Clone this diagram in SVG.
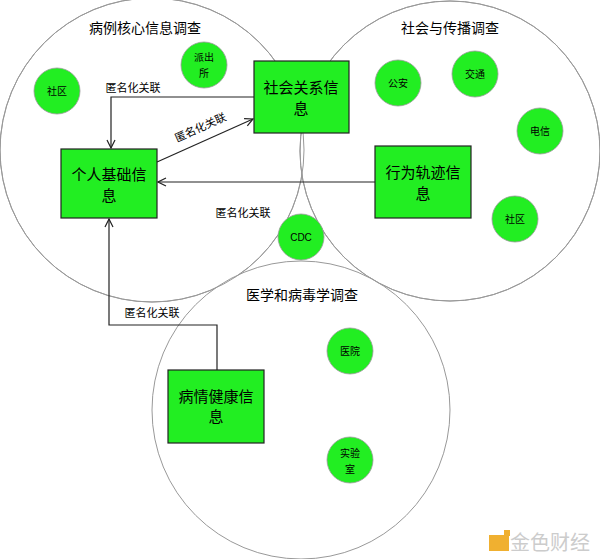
<svg xmlns="http://www.w3.org/2000/svg" width="600" height="559" viewBox="0 0 600 559">
<defs>
<style>
.big{fill:#fff;stroke:#999;stroke-width:1}
.ring{fill:none;stroke:#999;stroke-width:1}
.box{fill:#22ee22;stroke:#222;stroke-width:1.2}
.dot{fill:#22ee22;stroke:#999;stroke-width:0.8}
text{font-family:"Noto Sans CJK SC","Liberation Sans",sans-serif;fill:#000;text-anchor:middle}
.t{font-size:14px}
.bt{font-size:15px}
.s{font-size:10px}
.l{font-size:11px}
.e{fill:none;stroke:#222;stroke-width:1.2}
</style>
<marker id="a" markerWidth="10" markerHeight="10" refX="9" refY="5" orient="auto" markerUnits="userSpaceOnUse"><path d="M1,1 L9,5 L1,9" fill="none" stroke="#222" stroke-width="1.2"/></marker>
</defs>
<rect width="600" height="559" fill="#fff"/>
<g id="circles">
<circle class="big" cx="152" cy="150" r="152"/>
<circle class="big" cx="450" cy="151" r="150"/>
<circle class="big" cx="301" cy="410" r="149"/>
<circle class="ring" cx="152" cy="150" r="152"/>
<circle class="ring" cx="450" cy="151" r="150"/>
</g>
<g id="titles">
<text class="t" x="145" y="33">病例核心信息调查</text>
<text class="t" x="450" y="33">社会与传播调查</text>
<text class="t" x="302" y="300">医学和病毒学调查</text>
</g>
<g id="connectors">
<polyline class="e" points="254,97 111,97 111,148" marker-end="url(#a)"/>
<line class="e" x1="157" y1="162" x2="253" y2="119" marker-end="url(#a)"/>
<line class="e" x1="375" y1="182" x2="158" y2="182" marker-end="url(#a)"/>
<polyline class="e" points="217,370 217,325 109,325 109,219" marker-end="url(#a)"/>
<text class="l" x="133" y="92">匿名化关联</text>
<text class="l" x="0" y="0" transform="translate(202,131) rotate(-24)">匿名化关联</text>
<text class="l" x="243" y="217">匿名化关联</text>
<text class="l" x="152" y="317">匿名化关联</text>
</g>
<g id="n-social"><rect class="box" x="254" y="61" width="95" height="72"/><text class="bt" x="301" y="93">社会关系信</text><text class="bt" x="301" y="114">息</text></g>
<g id="n-personal"><rect class="box" x="61" y="149" width="96" height="69"/><text class="bt" x="109" y="180">个人基础信</text><text class="bt" x="109" y="201">息</text></g>
<g id="n-track"><rect class="box" x="375" y="146" width="96" height="72"/><text class="bt" x="423" y="178">行为轨迹信</text><text class="bt" x="423" y="199">息</text></g>
<g id="n-health"><rect class="box" x="168" y="370" width="96" height="73"/><text class="bt" x="216" y="402">病情健康信</text><text class="bt" x="216" y="422">息</text></g>
<g id="d-sq1"><circle class="dot" cx="57" cy="91" r="23"/><text class="s" x="57" y="95">社区</text></g>
<g id="d-pcs"><circle class="dot" cx="204" cy="65" r="23"/><text class="s" x="204" y="61">派出</text><text class="s" x="204" y="77">所</text></g>
<g id="d-ga"><circle class="dot" cx="398" cy="83" r="23"/><text class="s" x="398" y="87">公安</text></g>
<g id="d-jt"><circle class="dot" cx="475" cy="74" r="23"/><text class="s" x="475" y="78">交通</text></g>
<g id="d-dx"><circle class="dot" cx="540" cy="131" r="23"/><text class="s" x="540" y="135">电信</text></g>
<g id="d-sq2"><circle class="dot" cx="515" cy="219" r="23"/><text class="s" x="515" y="223">社区</text></g>
<g id="d-cdc"><circle class="dot" cx="301" cy="237" r="23"/><text class="s" x="301" y="241" style="font-family:'Liberation Sans',sans-serif">CDC</text></g>
<g id="d-yy"><circle class="dot" cx="350" cy="351" r="23"/><text class="s" x="350" y="355">医院</text></g>
<g id="d-sys"><circle class="dot" cx="350" cy="460" r="23"/><text class="s" x="350" y="457">实验</text><text class="s" x="350" y="473">室</text></g>
<g id="watermark">
<rect x="489" y="535" width="20" height="16" fill="#f0b030"/>
<rect x="504" y="530" width="6" height="6" fill="#f0b030"/>
<text x="550" y="550" style="font-size:20px;fill:#ccc">金色财经</text>
</g>
</svg>
